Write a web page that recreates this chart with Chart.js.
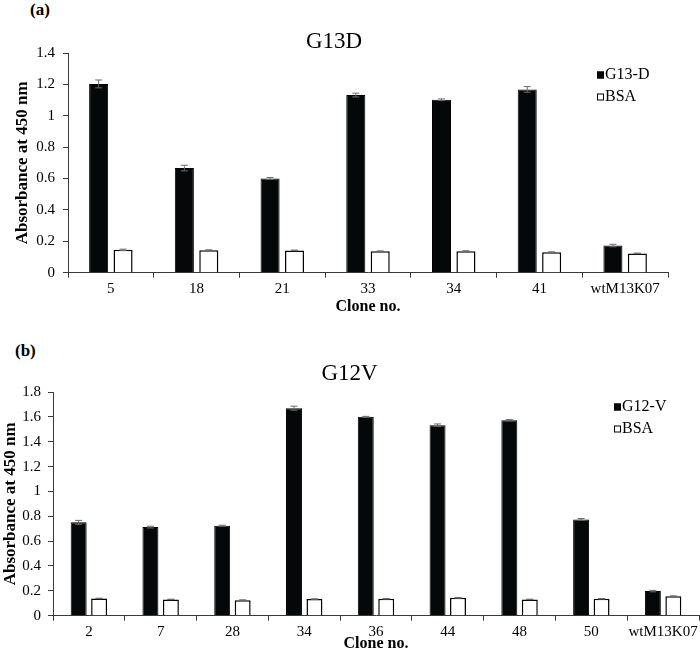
<!DOCTYPE html>
<html>
<head>
<meta charset="utf-8">
<script src="https://cdn.jsdelivr.net/npm/chart.js@4"></script>
<style>
  body { margin: 0; background: #fff; }
  #wrap { position: relative; width: 700px; height: 658px; }
  canvas { position: absolute; left: 0; }
  .tag { position: absolute; font: bold 17px 'Liberation Serif', serif; color: #000; }
</style>
</head>
<body>
<div id="wrap">
  <div class="tag" style="left:30px;top:0px;">(a)</div>
  <canvas id="chartA" width="700" height="320" style="top:0px;"></canvas>
  <div class="tag" style="left:15px;top:341px;">(b)</div>
  <canvas id="chartB" width="700" height="338" style="top:320px;"></canvas>
</div>
<script>
// panel (a) - G13D
const clonesA = ['5', '18', '21', '33', '34', '41', 'wtM13K07'];
const g13d = [1.203, 0.667, 0.600, 1.132, 1.102, 1.168, 0.173];
const g13dErr = [0.025, 0.018, 0.006, 0.012, 0.005, 0.018, 0.008];
const bsaA = [0.146, 0.143, 0.142, 0.137, 0.137, 0.131, 0.123];
const bsaAErr = [0.004, 0.003, 0.002, 0.002, 0.003, 0.002, 0.002];

// panel (b) - G12V
const clonesB = ['2', '7', '28', '34', '36', '44', '48', '50', 'wtM13K07'];
const g12v = [0.751, 0.713, 0.724, 1.670, 1.600, 1.533, 1.573, 0.775, 0.198];
const g12vErr = [0.016, 0.007, 0.004, 0.016, 0.004, 0.010, 0.005, 0.007, 0.006];
const bsaB = [0.139, 0.131, 0.125, 0.134, 0.136, 0.144, 0.131, 0.136, 0.157];
const bsaBErr = [0.002, 0.002, 0.003, 0.002, 0.002, 0.003, 0.002, 0.002, 0.003];

const FONT = "'Liberation Serif', serif";
const AXIS = '#3a3a3a';

const errorBars = {
    id: 'errorBars',
    afterDatasetsDraw(chart) {
        const ctx = chart.ctx;
        const y = chart.scales.y;
        ctx.save();
        ctx.strokeStyle = '#6b6b6b';
        ctx.lineWidth = 1;
        chart.data.datasets.forEach((ds, i) => {
            const meta = chart.getDatasetMeta(i);
            meta.data.forEach((bar, j) => {
                const v = ds.data[j], e = ds.errors[j];
                const top = y.getPixelForValue(v + e);
                const bot = y.getPixelForValue(v - e);
                const cap = 3.5;
                ctx.beginPath();
                ctx.moveTo(bar.x, top); ctx.lineTo(bar.x, bot);
                ctx.moveTo(bar.x - cap, top); ctx.lineTo(bar.x + cap, top);
                ctx.moveTo(bar.x - cap, bot); ctx.lineTo(bar.x + cap, bot);
                ctx.stroke();
            });
        });
        ctx.restore();
    }
};

// small legend in the upper right of the plot
const cornerLegend = {
    id: 'cornerLegend',
    afterDraw(chart, args, opts) {
        const ctx = chart.ctx;
        const area = chart.chartArea;
        ctx.save();
        ctx.font = '16px ' + FONT;
        ctx.textBaseline = 'middle';
        chart.data.datasets.forEach((ds, i) => {
            const x = area.right - opts.dx;
            const yy = area.top + opts.dy + i * 22;
            ctx.fillStyle = ds.backgroundColor;
            ctx.fillRect(x, yy - 3.5, 7, 7);
            ctx.strokeStyle = '#000';
            ctx.lineWidth = 1;
            ctx.strokeRect(x + 0.5, yy - 3, 6, 6);
            ctx.fillStyle = '#000';
            ctx.fillText(ds.label, x + 8, yy);
        });
        ctx.restore();
    }
};

function makeChart(id, o) {
    return new Chart(document.getElementById(id), {
        type: 'bar',
        data: {
            labels: o.labels,
            datasets: [{
                label: o.name,
                data: o.main,
                errors: o.mainErr,
                backgroundColor: '#050808',
                borderColor: '#000',
                borderWidth: 1,
                categoryPercentage: 0.57,
                barPercentage: 0.78
            }, {
                label: 'BSA',
                data: o.bsa,
                errors: o.bsaErr,
                backgroundColor: '#ffffff',
                borderColor: '#000',
                borderWidth: 1.5,
                categoryPercentage: 0.57,
                barPercentage: 0.78
            }]
        },
        options: {
            responsive: false,
            animation: false,
            layout: { padding: { left: 0, right: o.padRight, top: 0, bottom: 0 } },
            plugins: {
                legend: { display: false },
                tooltip: { enabled: false },
                title: {
                    display: true,
                    text: o.title,
                    color: '#000',
                    font: { family: FONT, size: 23, weight: 'normal', lineHeight: 1 },
                    padding: o.titlePad
                },
                cornerLegend: o.legend
            },
            scales: {
                x: {
                    afterFit: s => { s.height = o.xHeight; },
                    grid: { drawOnChartArea: false, drawTicks: true, tickLength: 5, color: AXIS, offset: true },
                    border: { display: true, color: AXIS, width: 1 },
                    ticks: { color: '#000', padding: o.xTickPad, font: { family: FONT, size: 15 }, maxRotation: 0, autoSkip: false },
                    title: {
                        display: true, text: 'Clone no.', color: '#000',
                        font: { family: FONT, size: 16, weight: 'bold' },
                        padding: { top: 0, bottom: o.xTitlePad }
                    }
                },
                y: {
                    min: 0,
                    max: o.max,
                    afterFit: s => { s.width = o.yWidth; },
                    grid: { drawOnChartArea: false, drawTicks: true, tickLength: 5, color: AXIS },
                    border: { display: true, color: AXIS, width: 1 },
                    ticks: {
                        stepSize: 0.2, color: '#000', padding: o.yTickPad,
                        font: { family: FONT, size: 15 },
                        callback: v => String(+v.toFixed(1))
                    },
                    title: {
                        display: true, text: 'Absorbance at 450 nm', color: '#000',
                        font: { family: FONT, size: 17, weight: 'bold' },
                        padding: { top: o.yTitlePad, bottom: 0 }
                    }
                }
            }
        },
        plugins: [errorBars, cornerLegend]
    });
}

makeChart('chartA', {
    labels: clonesA, name: 'G13-D', main: g13d, mainErr: g13dErr, bsa: bsaA, bsaErr: bsaAErr,
    title: 'G13D', titlePad: { top: 30, bottom: 0 }, max: 1.4,
    padRight: 32, xHeight: 47.3, xTickPad: 2, xTitlePad: 4,
    yWidth: 68, yTickPad: 8, yTitlePad: 12,
    legend: { dx: 71, dy: 22 }
});

makeChart('chartB', {
    labels: clonesB, name: 'G12-V', main: g12v, mainErr: g12vErr, bsa: bsaB, bsaErr: bsaBErr,
    title: 'G12V', titlePad: { top: 42, bottom: 7 }, max: 1.8,
    padRight: 1, xHeight: 42.3, xTickPad: 2, xTitlePad: 5,
    yWidth: 53, yTickPad: 7, yTitlePad: 0,
    legend: { dx: 85, dy: 15 }
});
</script>
</body>
</html>
